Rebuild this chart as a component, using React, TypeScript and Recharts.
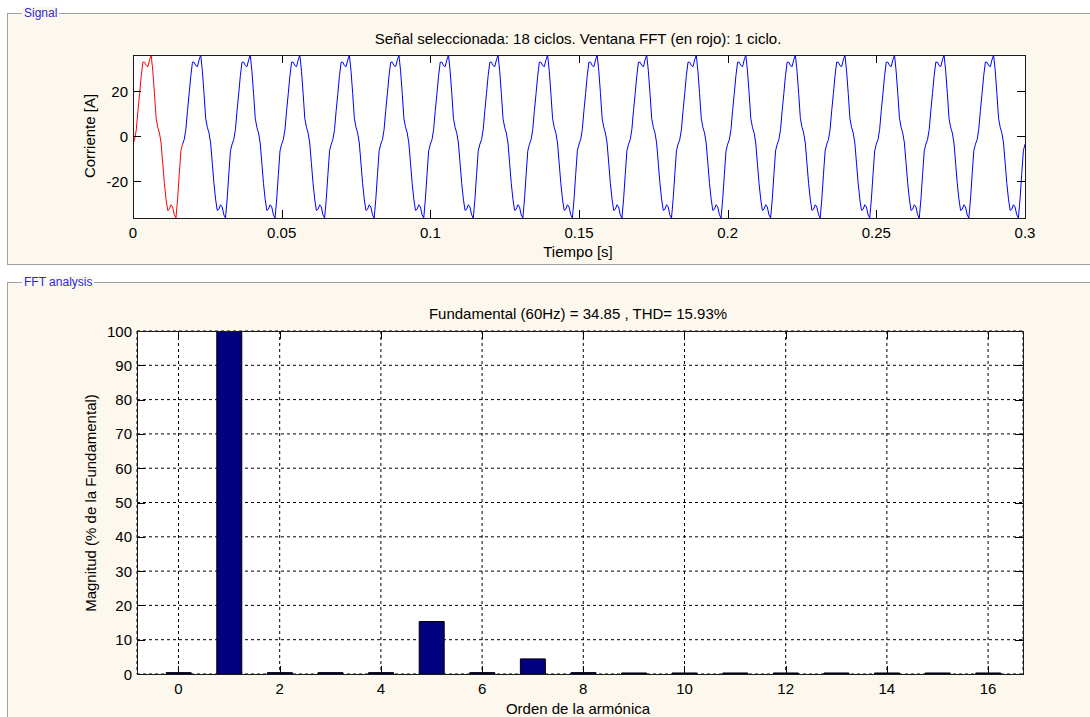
import React from "react";
import { LineChart, Line, BarChart, Bar, XAxis, YAxis, CartesianGrid } from "recharts";

// one 60 Hz cycle of the current [A] (30 samples per cycle)
const CYCLE_CURRENT = [
  -3.5, -1.5, 3, 11.5, 19, 27, 33, 33, 31.5, 31, 34, 36.2, 29, 19, 8,
  4, 1.5, -3, -12, -21, -28, -33, -32.5, -30.5, -31.5, -35, -36.4, -28, -17, -6.5,
];
const FUNDAMENTAL_HZ = 60;
const N_CYCLES = 18;
const FFT_CYCLES = 1;

const TIME_TICKS = [0, 0.05, 0.1, 0.15, 0.2, 0.25, 0.3];
const CURRENT_TICKS = [-20, 0, 20];

const HARMONIC_ORDER = [0, 1, 2, 3, 4, 5, 6, 7, 8, 9, 10, 11, 12, 13, 14, 15, 16];
const HARMONIC_MAG = [0.4, 100, 0.4, 0.4, 0.4, 15.3, 0.4, 4.4, 0.4, 0.3, 0.3, 0.3, 0.3, 0.3, 0.3, 0.3, 0.3];
const ORDER_TICKS = [0, 2, 4, 6, 8, 10, 12, 14, 16];
const MAG_TICKS = [0, 10, 20, 30, 40, 50, 60, 70, 80, 90, 100];

const TITLE_SIGNAL = "Señal seleccionada: 18 ciclos. Ventana FFT (en rojo): 1 ciclo.";
const TITLE_FFT = "Fundamental (60Hz) = 34.85 , THD= 15.93%";

const N = CYCLE_CURRENT.length;
const signal = Array.from({ length: N_CYCLES * N + 1 }, (_, i) => {
  const v = CYCLE_CURRENT[i % N];
  const inWindow = i <= FFT_CYCLES * N;
  return { t: i / (FUNDAMENTAL_HZ * N), rest: i >= FFT_CYCLES * N ? v : null, fft: inWindow ? v : null };
});
const harmonics = HARMONIC_ORDER.map((order, i) => ({ order, mag: HARMONIC_MAG[i] }));

const FONT = '"Liberation Sans", Arial, sans-serif';
const FS = 15;
const TICK_LEN = 8;
const PANEL_BG = "#fdf8ed";

// plot boxes, in each chart's own svg coordinates
const TOP = { left: 133, right: 1025, top: 55, bottom: 218 };
const BOT = { left: 137, right: 1023, top: 49, bottom: 392 };
const BOT_Y = 282;

const px = (v: number) => Math.round(v) + 0.5;

function xTick(box: typeof TOP, gap: number) {
  return (props: any) => {
    const x = px(props.x);
    return (
      <g>
        <line x1={x} x2={x} y1={box.bottom} y2={box.bottom - TICK_LEN} stroke="#000" />
        <line x1={x} x2={x} y1={box.top} y2={box.top + TICK_LEN} stroke="#000" />
        <text x={props.x} y={box.bottom + gap} textAnchor="middle" dominantBaseline="central"
          fontSize={FS} fontFamily={FONT} fill="#000">{props.payload.value}</text>
      </g>
    );
  };
}

function yTick(box: typeof TOP) {
  return (props: any) => {
    const y = px(props.y);
    return (
      <g>
        <line x1={box.left} x2={box.left + TICK_LEN} y1={y} y2={y} stroke="#000" />
        <line x1={box.right} x2={box.right - TICK_LEN} y1={y} y2={y} stroke="#000" />
        <text x={box.left - 5} y={props.y} textAnchor="end" dominantBaseline="central"
          fontSize={FS} fontFamily={FONT} fill="#000">{props.payload.value}</text>
      </g>
    );
  };
}

const abs = (left: number, top: number, extra: React.CSSProperties = {}): React.CSSProperties => ({
  position: "absolute", left, top, ...extra,
});

function Text({ x, y, children, rotate = false }: { x: number; y: number; children: React.ReactNode; rotate?: boolean }) {
  return (
    <div style={abs(x, y, {
      transform: `translate(-50%, -50%)${rotate ? " rotate(-90deg)" : ""}`,
      whiteSpace: "nowrap", fontFamily: FONT, fontSize: FS, color: "#000", lineHeight: 1,
    })}>{children}</div>
  );
}

function PanelLabel({ y, children }: { y: number; children: React.ReactNode }) {
  return (
    <div style={abs(22, y, {
      transform: "translateY(-50%)", padding: "0 2px", background: PANEL_BG,
      fontFamily: FONT, fontSize: 12, color: "#2a2ad0", lineHeight: 1, whiteSpace: "nowrap",
    })}>{children}</div>
  );
}

export default function App() {
  return (
    <div style={abs(0, 0, { width: 1090, height: 717, background: "#fff", overflow: "hidden" })}>
      {/* panels */}
      <div style={abs(7, 13, { width: 1120, height: 252, border: "1px solid #a0a0a0", background: PANEL_BG, boxSizing: "border-box" })} />
      <div style={abs(7, 282, { width: 1120, height: 460, border: "1px solid #a0a0a0", background: PANEL_BG, boxSizing: "border-box" })} />
      <PanelLabel y={13}>Signal</PanelLabel>
      <PanelLabel y={282}>FFT analysis</PanelLabel>

      {/* signal */}
      <div style={abs(0, 0)}>
        <LineChart width={1090} height={265} data={signal}
          margin={{ top: TOP.top, right: 1090 - TOP.right, bottom: 265 - TOP.bottom - 30, left: TOP.left - 40 }}>
          <CartesianGrid horizontal={false} vertical={false} fill="#fff" />
          <XAxis dataKey="t" type="number" domain={[0, 0.3]} ticks={TIME_TICKS} interval={0}
            allowDataOverflow height={30} axisLine={false} tickLine={false} tick={xTick(TOP, 14)} />
          <YAxis type="number" domain={[-36.4, 36.2]} ticks={CURRENT_TICKS} interval={0}
            allowDataOverflow width={40} axisLine={false} tickLine={false} tick={yTick(TOP)} />
          <Line dataKey="rest" stroke="#0000ff" strokeWidth={1} dot={false} isAnimationActive={false} connectNulls={false} />
          <Line dataKey="fft" stroke="#ff0000" strokeWidth={1} dot={false} isAnimationActive={false} connectNulls={false} />
        </LineChart>
      </div>
      <div style={abs(TOP.left, TOP.top, { width: TOP.right - TOP.left + 1, height: TOP.bottom - TOP.top + 1, border: "1px solid #1a1a1a", boxSizing: "border-box", pointerEvents: "none" })} />
      <Text x={578} y={38}>{TITLE_SIGNAL}</Text>
      <Text x={578} y={251}>Tiempo [s]</Text>
      <Text x={89} y={136} rotate>Corriente [A]</Text>

      {/* FFT */}
      <div style={abs(0, BOT_Y)}>
        <BarChart width={1090} height={435} data={harmonics}
          margin={{ top: BOT.top, right: 1090 - BOT.right, bottom: 435 - BOT.bottom - 30, left: BOT.left - 40 }}>
          <CartesianGrid stroke="#000" strokeDasharray="3 3" fill="#fff" />
          <XAxis dataKey="order" type="number" domain={[-0.82, 16.69]} ticks={ORDER_TICKS} interval={0}
            allowDataOverflow height={30} axisLine={false} tickLine={false} tick={xTick(BOT, 14)} />
          <YAxis type="number" domain={[0, 100]} ticks={MAG_TICKS} interval={0}
            allowDataOverflow width={40} axisLine={false} tickLine={false} tick={yTick(BOT)} />
          <Bar dataKey="mag" fill="#000080" stroke="#000" strokeWidth={1} barSize={25} isAnimationActive={false} />
        </BarChart>
      </div>
      <div style={abs(BOT.left, BOT_Y + BOT.top, { width: BOT.right - BOT.left + 1, height: BOT.bottom - BOT.top + 1, border: "1px solid #1a1a1a", boxSizing: "border-box", pointerEvents: "none" })} />
      <Text x={578} y={313}>{TITLE_FFT}</Text>
      <Text x={578} y={708}>Orden de la armónica</Text>
      <Text x={90} y={BOT_Y + (BOT.top + BOT.bottom) / 2}>
        <span style={{ display: "inline-block", transform: "rotate(-90deg)" }}>Magnitud (% de la Fundamental)</span>
      </Text>
    </div>
  );
}
